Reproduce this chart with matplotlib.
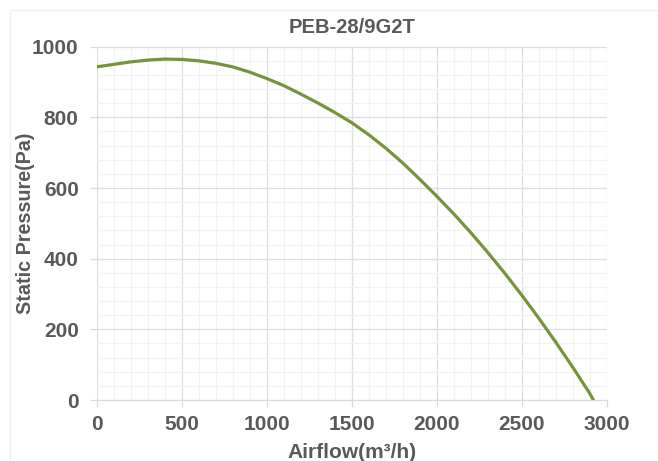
import matplotlib
matplotlib.use('Agg')
import matplotlib.pyplot as plt
from matplotlib.patches import Rectangle
from matplotlib.ticker import MultipleLocator

# curve
airflow = [0, 100, 200, 300, 400, 500, 600, 700, 800, 900, 1000, 1100, 1200, 1300, 1400,
           1500, 1600, 1700, 1800, 1900, 2000, 2100, 2200, 2300, 2400, 2500, 2600, 2700,
           2800, 2900, 2922]
pressure = [943, 950, 957, 962, 965, 964, 960, 953, 943, 928, 910, 890, 866, 841, 814,
            785, 751, 713, 671, 625, 577, 527, 474, 418, 359, 297, 232, 164,
            93, 19, 0]
x_ticks = [0, 500, 1000, 1500, 2000, 2500, 3000]
y_ticks = [0, 200, 400, 600, 800, 1000]

title = 'PEB-28/9G2T'
xlabel = 'Airflow(m³/h)'
ylabel = 'Static Pressure(Pa)'

plt.rcParams['font.family'] = ['Liberation Sans', 'DejaVu Sans']
txt_color = '#595959'

fig = plt.figure(figsize=(6.58, 4.61), dpi=100)
# faint chart frame like the spreadsheet export
fig.patches.append(Rectangle((10 / 658, -0.01), 1.0, 1 - 10 / 461 + 0.01,
                             transform=fig.transFigure, fill=False,
                             edgecolor='#efefef', linewidth=0.8))
ax = fig.add_axes([0.147, 0.1323, 0.775, 0.7664])

ax.plot(airflow, pressure, color='#77933c', linewidth=2.3, solid_capstyle='round')

ax.set_xlim(0, 3000)
ax.set_ylim(0, 1000)
ax.set_xticks(x_ticks)
ax.set_yticks(y_ticks)
ax.xaxis.set_minor_locator(MultipleLocator(100))
ax.yaxis.set_minor_locator(MultipleLocator(40))
ax.grid(which='major', color='#dedede', linewidth=0.9)
ax.grid(which='minor', color='#f2f2f2', linewidth=0.8)
ax.set_axisbelow(True)

for s in ['top', 'right', 'left']:
    ax.spines[s].set_visible(False)
ax.spines['bottom'].set_color('#d9d9d9')

ax.tick_params(which='major', length=5, width=0.9, color='#d9d9d9',
               labelcolor=txt_color, labelsize=15)
ax.tick_params(axis='x', pad=6)
ax.tick_params(axis='y', pad=8)
ax.tick_params(which='minor', length=0)
for lab in ax.get_xticklabels() + ax.get_yticklabels():
    lab.set_fontweight('bold')

ax.set_title(title, color=txt_color, fontsize=14.5, fontweight='bold', pad=10)
ax.set_xlabel(xlabel, color=txt_color, fontsize=15, fontweight='bold', labelpad=6)
ax.set_ylabel(ylabel, color=txt_color, fontsize=14.2, fontweight='bold')
ax.yaxis.set_label_coords(-0.122, 0.5)

fig.savefig('out.png', dpi=100)
